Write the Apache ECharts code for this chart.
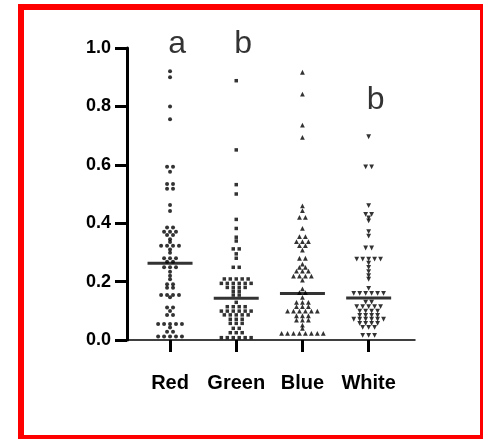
<!DOCTYPE html>
<html>
<head>
<meta charset="utf-8">
<script src="https://cdn.jsdelivr.net/npm/echarts@6/dist/echarts.min.js"></script>
<style>
  html, body { margin: 0; padding: 0; background: #fff; }
  #chart-wrapper { width: 483px; height: 439px; }
</style>
</head>
<body>
<div id="chart-wrapper"></div>
<script>
// groups on the x axis
const categories = ["Red", "Green", "Blue", "White"];

const redValues = [
  0.92, 0.90, 0.80, 0.756, 0.593, 0.593, 0.576, 0.534, 0.534, 0.518, 0.518,
  0.462, 0.442, 0.385, 0.385, 0.371, 0.371, 0.371, 0.36, 0.36, 0.345, 0.336,
  0.323, 0.323, 0.323, 0.323, 0.31, 0.299, 0.28, 0.28, 0.28, 0.268, 0.268,
  0.249, 0.249, 0.249, 0.234, 0.22, 0.208, 0.191, 0.191, 0.179, 0.179,
  0.154, 0.154, 0.154, 0.154, 0.146, 0.111, 0.111, 0.099, 0.086, 0.086,
  0.055, 0.055, 0.055, 0.055, 0.055, 0.043, 0.028, 0.028,
  0.012, 0.012, 0.012, 0.012, 0.012,
];
const greenValues = [
  0.888, 0.651, 0.532, 0.50, 0.413, 0.382, 0.352, 0.339, 0.312, 0.312, 0.295,
  0.28, 0.249, 0.249, 0.209, 0.209, 0.209, 0.209, 0.209,
  0.194, 0.194, 0.194, 0.194, 0.194, 0.194, 0.18, 0.18, 0.18, 0.18,
  0.167, 0.167, 0.154, 0.154, 0.129, 0.114, 0.114, 0.114, 0.114,
  0.099, 0.099, 0.099, 0.099, 0.099, 0.099, 0.086, 0.086, 0.086, 0.086, 0.086,
  0.071, 0.071, 0.071, 0.057, 0.057, 0.057, 0.04, 0.04, 0.025, 0.025, 0.025,
  0.008, 0.008, 0.008, 0.008, 0.008, 0.008,
];
const blueValues = [
  0.917, 0.842, 0.736, 0.694, 0.459, 0.443, 0.42, 0.42, 0.382, 0.354, 0.354,
  0.337, 0.337, 0.337, 0.323, 0.323, 0.308, 0.28, 0.28, 0.26, 0.249, 0.249,
  0.236, 0.236, 0.236, 0.219, 0.219, 0.219, 0.219, 0.205, 0.175, 0.162, 0.162,
  0.146, 0.129, 0.129, 0.129, 0.114, 0.114, 0.114,
  0.099, 0.099, 0.099, 0.099, 0.099, 0.099, 0.083, 0.083, 0.083,
  0.068, 0.068, 0.068, 0.051, 0.04,
  0.023, 0.023, 0.023, 0.023, 0.023, 0.023, 0.023, 0.023,
];
const whiteValues = [
  0.696, 0.593, 0.593, 0.46, 0.43, 0.43, 0.418, 0.408, 0.371, 0.356,
  0.315, 0.315, 0.277, 0.277, 0.277, 0.277, 0.277, 0.263, 0.249, 0.234, 0.22,
  0.208, 0.177, 0.16, 0.16, 0.16, 0.16, 0.16, 0.16, 0.13, 0.13,
  0.114, 0.114, 0.114, 0.114, 0.114, 0.099, 0.099, 0.099, 0.099,
  0.084, 0.084, 0.084, 0.084, 0.071, 0.071, 0.071, 0.071, 0.071, 0.071,
  0.057, 0.057, 0.057, 0.057, 0.043, 0.043, 0.043, 0.016, 0.016, 0.016,
];

// median bars
const medians = [0.263, 0.143, 0.159, 0.144];

// significance letters: [group index (1-based), y value, letter]
const letters = [
  [1, 1.014, "a"],
  [2, 1.014, "b"],
  [4, 0.82, "b"],
];

const yTicks = [0, 0.2, 0.4, 0.6, 0.8, 1.0];

////////////// helper
// spread points that share a value into a centred row (GraphPad style)
const DOT_GAP = 0.09; // in x units, ~6px
const spreadRow = (values, xCenter) => {
  const counts = {};
  values.forEach((v) => {
    const k = v.toFixed(3);
    counts[k] = (counts[k] || 0) + 1;
  });
  const seen = {};
  return values.map((v) => {
    const k = v.toFixed(3);
    const i = seen[k] || 0;
    seen[k] = i + 1;
    const offset = (i - (counts[k] - 1) / 2) * DOT_GAP;
    return [xCenter + offset, v];
  });
};

const FONT = "'Liberation Sans', Arial, sans-serif";

const dotSeries = (values, idx, symbol, size, rotate) => ({
  type: "scatter",
  data: spreadRow(values, idx),
  symbol: symbol,
  symbolSize: size,
  symbolRotate: rotate || 0,
  itemStyle: { color: "#000" },
  z: 3,
});

const chartDom = document.getElementById("chart-wrapper");
const chart = echarts.init(chartDom, null, { renderer: "canvas" });

const option = {
  animation: false,
  backgroundColor: "#fff",
  grid: { left: 127, right: 68, top: 48, bottom: 99 },
  graphic: [
    {
      type: "rect",
      shape: { x: 21, y: 7, width: 462, height: 431 },
      style: { fill: "none", stroke: "#ff0000", lineWidth: 6 },
      z: 100,
    },
  ],
  xAxis: {
    type: "value",
    min: 0.35,
    max: 4.7,
    splitLine: { show: false },
    axisLine: { show: true, lineStyle: { color: "#000", width: 1.5 } },
    axisTick: {
      show: true,
      customValues: [1, 2, 3, 4],
      length: 12,
      lineStyle: { color: "#000", width: 3 },
    },
    axisLabel: {
      customValues: [1, 2, 3, 4],
      formatter: (v) => categories[Math.round(v) - 1] || "",
      margin: 33,
      color: "#000",
      fontWeight: "bold",
      fontSize: 20,
      fontFamily: FONT,
    },
  },
  yAxis: {
    type: "value",
    min: 0,
    max: 1,
    interval: 0.2,
    splitLine: { show: false },
    axisLine: { show: true, lineStyle: { color: "#000", width: 3 } },
    axisTick: {
      show: true,
      customValues: yTicks,
      length: 12,
      lineStyle: { color: "#000", width: 3 },
    },
    axisLabel: {
      customValues: yTicks,
      formatter: (v) => v.toFixed(1),
      margin: 16,
      color: "#000",
      fontWeight: "bold",
      fontSize: 18,
      fontFamily: FONT,
    },
  },
  series: [
    dotSeries(redValues, 1, "circle", 4),
    dotSeries(greenValues, 2, "rect", 3.5),
    dotSeries(blueValues, 3, "triangle", 4.8),
    dotSeries(whiteValues, 4, "triangle", 4.8, 180),
    {
      type: "scatter",
      data: medians.map((m, i) => [i + 1, m]),
      symbol: "rect",
      symbolSize: [45, 3],
      itemStyle: { color: "#000" },
      z: 4,
    },
    {
      type: "scatter",
      clip: false,
      data: letters,
      symbolSize: 0,
      label: {
        show: true,
        position: "inside",
        offset: [7, 0],
        formatter: (p) => p.value[2],
        color: "#000",
        fontSize: 32,
        fontFamily: FONT,
      },
      z: 5,
    },
  ],
};

chart.setOption(option);
</script>
</body>
</html>
